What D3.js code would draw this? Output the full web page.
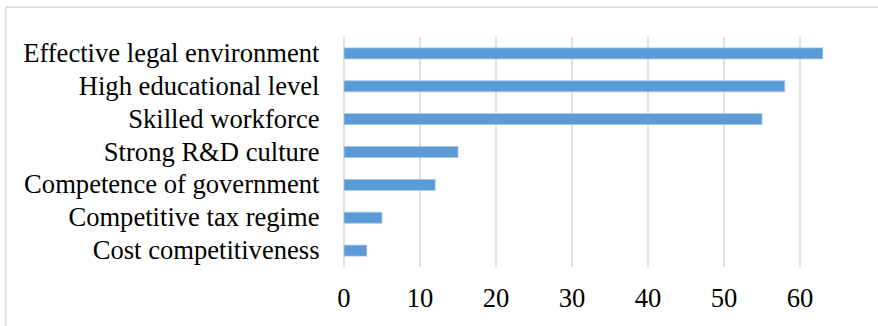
<!DOCTYPE html>
<html>
<head>
<meta charset="utf-8">
<script src="https://cdn.jsdelivr.net/npm/d3@7"></script>
<style>
  html, body { margin: 0; padding: 0; background: #fff; }
  svg { display: block; }
  .lbl { font-family: "Liberation Serif", "Times New Roman", serif; font-size: 26.6px; fill: #000; }
</style>
</head>
<body>
<svg id="chart" width="878" height="326"></svg>
<script>
// factors, top to bottom
var categories = ["Effective legal environment", "High educational level", "Skilled workforce",
                  "Strong R&D culture", "Competence of government", "Competitive tax regime",
                  "Cost competitiveness"];
var values = [63, 58, 55, 15, 12, 5, 3];
var tickValues = [0, 10, 20, 30, 40, 50, 60];

var svg = d3.select("#chart");

//chart frame (only top and left edges show in the crop)
svg.append("path")
    .attr("d", "M5.75,330V7.25H890")
    .attr("fill", "none")
    .attr("stroke", "#d9d9d9")
    .attr("stroke-width", 1.5);

var x = d3.scaleLinear().domain([0, 60]).range([344, 800]);
var y = d3.scaleBand().domain(categories).range([37, 267])
    .paddingInner(0.665).paddingOuter(0.3325);

//gridlines
svg.append("g").selectAll("line")
    .data(tickValues)
    .join("line")
    .attr("x1", d => x(d)).attr("x2", d => x(d))
    .attr("y1", 37).attr("y2", 267)
    .attr("stroke", "#d9d9d9")
    .attr("stroke-width", 1.5);

//bars
svg.append("g").selectAll("rect")
    .data(values)
    .join("rect")
    .attr("x", x(0))
    .attr("y", (d, i) => y(categories[i]))
    .attr("width", d => x(d) - x(0))
    .attr("height", y.bandwidth())
    .attr("fill", "#5b9bd5")
    .attr("stroke", "#a9c9ea")
    .attr("stroke-width", 0.8);

//category labels
svg.append("g").selectAll("text")
    .data(categories)
    .join("text")
    .attr("class", "lbl")
    .attr("x", 319.5)
    .attr("y", d => y(d) + y.bandwidth() / 2)
    .attr("dy", "0.32em")
    .attr("text-anchor", "end")
    .text(d => d);

//x tick labels
svg.append("g").selectAll("text")
    .data(tickValues)
    .join("text")
    .attr("class", "lbl")
    .attr("x", d => x(d))
    .attr("y", 306.5)
    .attr("text-anchor", "middle")
    .text(d => d);
</script>
</body>
</html>
